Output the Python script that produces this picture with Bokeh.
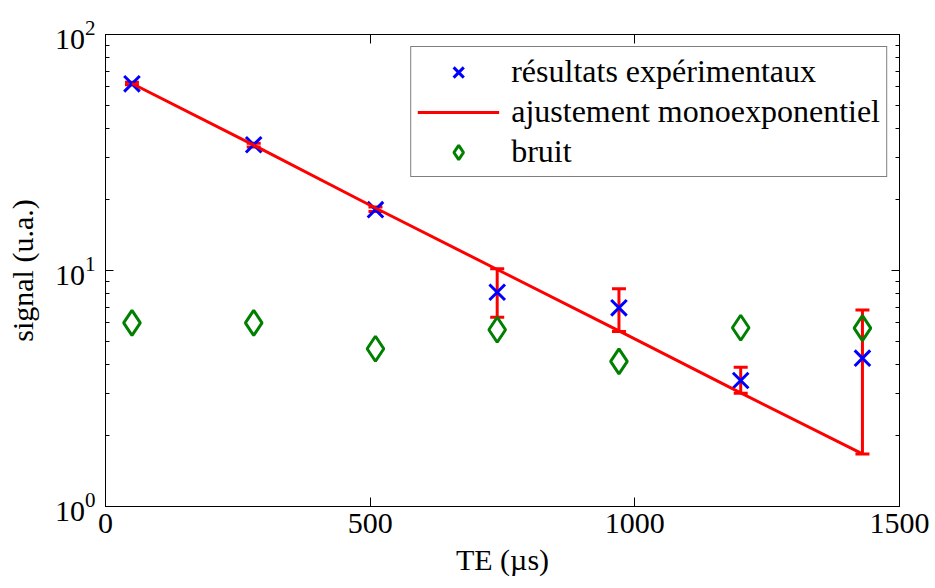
from bokeh.plotting import figure
from bokeh.models import (LogAxis, LinearAxis, FixedTicker, LogTicker, Whisker, TeeHead,
                          ColumnDataSource, Legend, LegendItem, Range1d, CustomJSTickFormatter)
from bokeh.embed import file_html
from bokeh.resources import INLINE

# ---- data ----
te = [50, 280, 510, 740, 970, 1200, 1430]                 # TE (µs)
signal = [61.8, 34.1, 18.1, 8.09, 6.95, 3.42, 4.25]       # résultats expérimentaux
fit = [62.0, 34.0, 18.4, 10.1, 5.55, 3.03, 1.67]          # ajustement monoexponentiel
noise = [6.0, 6.0, 4.66, 5.61, 4.12, 5.72, 5.70]          # bruit
err_lower = [61.2, 33.4, 17.8, 6.34, 5.51, 3.02, 1.67]
err_upper = [62.8, 34.6, 18.6, 10.17, 8.36, 3.89, 6.81]
x_ticks = [0, 500, 1000, 1500]

FONT = "Liberation Serif"
FS = "30px"

p = figure(width=935, height=588, output_backend="svg", toolbar_location=None,
           x_range=Range1d(0, 1500), y_range=Range1d(1, 100), y_axis_type="log",
           min_border_left=105, min_border_right=36, min_border_top=34, min_border_bottom=82)
p.background_fill_color = "white"
p.border_fill_color = "white"
p.outline_line_color = "black"
p.outline_line_width = 1
p.xgrid.visible = False
p.ygrid.visible = False

# bottom axis
xa = p.xaxis[0]
xa.ticker = FixedTicker(ticks=x_ticks, minor_ticks=[])
xa.axis_label = "TE (µs)"
xa.major_tick_in = 9
xa.major_tick_out = 0
xa.minor_tick_in = 0
xa.minor_tick_out = 0
xa.major_label_standoff = 7
xa.axis_label_standoff = 7

# left axis
ya = p.yaxis[0]
ya.ticker = LogTicker(num_minor_ticks=10)
ya.axis_label = "signal (u.a.)"
ya.major_tick_in = 8
ya.major_tick_out = 0
ya.minor_tick_in = 4
ya.minor_tick_out = 0
ya.major_label_standoff = 10
ya.axis_label_standoff = 13

for ax in (xa, ya):
    ax.axis_line_color = "black"
    ax.major_tick_line_color = "black"
    ax.minor_tick_line_color = "black"
    ax.major_label_text_font = FONT
    ax.major_label_text_font_size = FS
    ax.major_label_text_color = "black"
    ax.axis_label_text_font = FONT
    ax.axis_label_text_font_size = FS
    ax.axis_label_text_font_style = "normal"
    ax.axis_label_text_color = "black"

# mirrored axes (ticks only, no labels)
blank = CustomJSTickFormatter(code="return ''")
top = LinearAxis(ticker=FixedTicker(ticks=x_ticks, minor_ticks=[]), formatter=blank,
                 major_tick_in=9, major_tick_out=0, minor_tick_in=0, minor_tick_out=0,
                 major_label_standoff=0)
right = LogAxis(ticker=LogTicker(num_minor_ticks=10), formatter=blank,
                major_tick_in=8, major_tick_out=0, minor_tick_in=4, minor_tick_out=0,
                major_label_standoff=0)
for ax in (top, right):
    ax.axis_line_color = "black"
    ax.major_tick_line_color = "black"
    ax.minor_tick_line_color = "black"
p.add_layout(top, "above")
p.add_layout(right, "right")

src = ColumnDataSource(dict(te=te, signal=signal, fit=fit, noise=noise,
                            lower=err_lower, upper=err_upper))

r_x = p.scatter("te", "signal", source=src, marker="x", size=22, line_width=3,
                line_color="#0000ff")
r_fit = p.line("te", "fit", source=src, line_color="#ff0000", line_width=3)
wh = Whisker(source=src, base="te", lower="lower", upper="upper",
             line_color="#ff0000", line_width=3,
             upper_head=TeeHead(size=14, line_color="#ff0000", line_width=3),
             lower_head=TeeHead(size=14, line_color="#ff0000", line_width=3))
p.add_layout(wh)
r_d = p.scatter("te", "noise", source=src, marker="diamond", size=25, line_width=3,
                line_color="#008000", fill_color=None)

legend = Legend(items=[
    LegendItem(label="résultats expérimentaux", renderers=[r_x]),
    LegendItem(label="ajustement monoexponentiel", renderers=[r_fit]),
    LegendItem(label="bruit", renderers=[r_d]),
], location="top_right")
legend.label_text_font = FONT
legend.label_text_font_size = "32px"
legend.label_text_color = "black"
legend.border_line_color = "black"
legend.border_line_width = 1
legend.background_fill_color = "white"
legend.background_fill_alpha = 1
legend.padding = 6
legend.margin = 12
legend.spacing = 3
legend.glyph_width = 82
legend.glyph_height = 36
legend.label_height = 33
legend.label_standoff = 12
p.add_layout(legend)

open("out.html", "w").write(file_html(p, INLINE))
